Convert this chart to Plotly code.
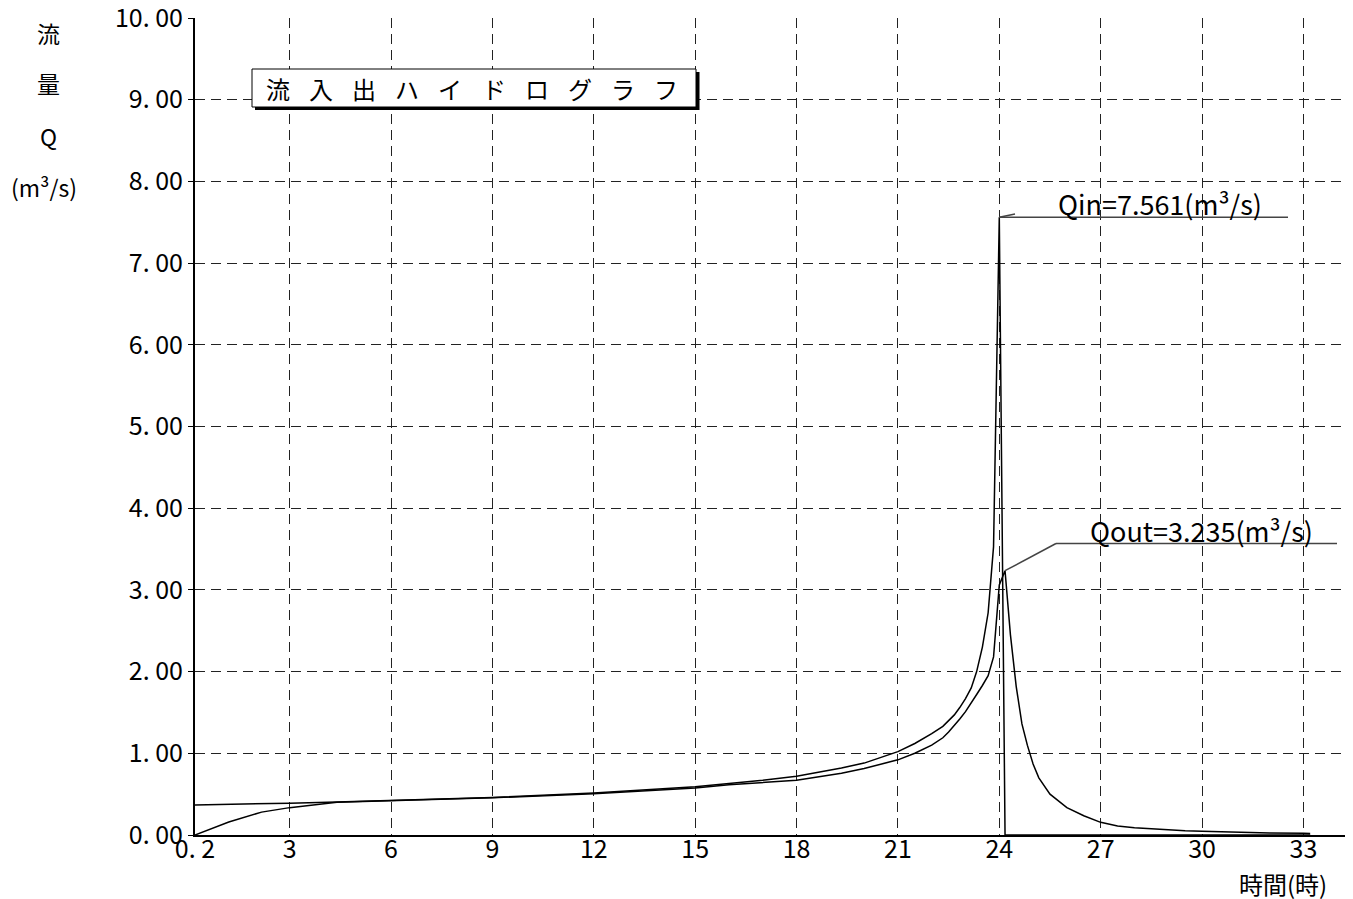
import plotly.graph_objects as go

# ---------------- data ----------------
t_in = [0.2, 1.2, 3.0, 4.4, 6.0, 9.0, 12.0, 15.0, 16.0, 17.0, 18.0, 19.33, 20.0, 21.0,
        21.5, 22.0, 22.33, 22.5, 22.67, 22.83, 23.0, 23.17, 23.33, 23.5, 23.67, 23.83,
        24.0, 24.17, 33.2]
q_in = [0.367, 0.372, 0.39, 0.405, 0.425, 0.46, 0.515, 0.59, 0.63, 0.67, 0.72, 0.82, 0.88, 1.02,
        1.12, 1.24, 1.33, 1.40, 1.47, 1.56, 1.67, 1.80, 2.00, 2.30, 2.72, 3.53,
        7.561, 0.0, 0.0]

t_out = [0.2, 1.2, 2.17, 3.0, 4.4, 6.0, 9.0, 12.0, 15.0, 16.0, 17.0, 18.0, 19.33, 20.0, 21.0,
         21.5, 22.0, 22.33, 22.5, 22.67, 22.83, 23.0, 23.17, 23.33, 23.5, 23.67, 23.83,
         24.0, 24.17, 24.33, 24.5, 24.67, 24.83, 25.0, 25.17, 25.5, 26.0, 26.5, 27.0,
         27.5, 28.0, 28.5, 29.0, 29.5, 30.0, 31.0, 32.0, 33.0, 33.2]
q_out = [0.0, 0.16, 0.28, 0.335, 0.40, 0.42, 0.455, 0.505, 0.575, 0.615, 0.64, 0.67, 0.755, 0.815, 0.92,
         1.00, 1.10, 1.19, 1.26, 1.34, 1.42, 1.51, 1.61, 1.72, 1.83, 1.95, 2.18,
         3.06, 3.235, 2.45, 1.82, 1.36, 1.10, 0.87, 0.70, 0.50, 0.335, 0.235, 0.155,
         0.11, 0.09, 0.075, 0.06, 0.052, 0.045, 0.033, 0.025, 0.02, 0.018]

x_ticks = [0.2, 3, 6, 9, 12, 15, 18, 21, 24, 27, 30, 33]
x_ticktext = ["0. 2", "3", "6", "9", "12", "15", "18", "21", "24", "27", "30", "33"]
y_ticks = [0, 1, 2, 3, 4, 5, 6, 7, 8, 9, 10]
y_ticktext = ["0. 00", "1. 00", "2. 00", "3. 00", "4. 00", "5. 00", "6. 00", "7. 00",
              "8. 00", "9. 00", "10. 00"]

chart_title = "流入出ハイドログラフ"
y_title_parts = ["流", "量", "Q", "(m³/s)"]
x_title = "時間(時)"

# ---------------- layout geometry ----------------
# the page body adds an 8px offset; all screen coordinates below are compensated
OFF = 8
W, H = 1345, 891
L, R, T, B = 195 - OFF, 8, 18 - OFF, 64
PW, PH = W - L - R, H - T - B
FONT = "Noto Sans CJK JP"
X0, X1 = 0.2, 34.23


def px(xs, ys):
    """screen pixel -> paper coords"""
    xf, yf = xs - OFF, ys - OFF
    return (xf - L) / PW, (H - B - yf) / PH


def t_of(xs):
    return X0 + (xs - OFF - L) / PW * (X1 - X0)


def q_of(ys):
    return (H - B - (ys - OFF)) / PH * 10


fig = go.Figure()
fig.add_trace(go.Scatter(x=t_in, y=q_in, mode="lines", line=dict(color="black", width=1.5),
                         name="Qin", showlegend=False, hoverinfo="skip"))
fig.add_trace(go.Scatter(x=t_out, y=q_out, mode="lines", line=dict(color="black", width=1.5),
                         name="Qout", showlegend=False, hoverinfo="skip"))

shapes = []
annotations = []

# title box with shadow
x0, y0 = px(255, 110)
x1, y1 = px(699.5, 72)
shapes.append(dict(type="rect", xref="paper", yref="paper", x0=x0, y0=y0, x1=x1, y1=y1,
                   fillcolor="black", line=dict(width=0)))
x0, y0 = px(252, 107)
x1, y1 = px(696, 69)
shapes.append(dict(type="rect", xref="paper", yref="paper", x0=x0, y0=y0, x1=x1, y1=y1,
                   fillcolor="white", line=dict(color="black", width=1)))
chars = list(chart_title)
n = len(chars)
for i, ch in enumerate(chars):
    cx = 278 + i * (666 - 278) / (n - 1)
    ax, ay = px(cx, 89)
    annotations.append(dict(text=ch, xref="paper", yref="paper", x=ax, y=ay,
                            xanchor="center", yanchor="middle", showarrow=False,
                            font=dict(family=FONT, size=24, color="black")))

# peak annotations
i_in = q_in.index(max(q_in))
i_out = q_out.index(max(q_out))
pin_t, pin_q = t_in[i_in], q_in[i_in]
pout_t, pout_q = t_out[i_out], q_out[i_out]

lead = dict(color="#444444", width=1.5)
shapes.append(dict(type="line", xref="x", yref="y", x0=pin_t, y0=pin_q, x1=t_of(1288), y1=pin_q, line=lead))
shapes.append(dict(type="line", xref="x", yref="y", x0=pin_t, y0=pin_q, x1=t_of(1015), y1=q_of(214), line=lead))
shapes.append(dict(type="line", xref="x", yref="y", x0=pout_t, y0=pout_q, x1=t_of(1056), y1=q_of(543.5), line=lead))
shapes.append(dict(type="line", xref="x", yref="y", x0=t_of(1056), y0=q_of(543.5), x1=t_of(1337), y1=q_of(543.5), line=lead))

annotations.append(dict(text="Qin=%.3f(m³/s)" % pin_q, xref="x", yref="y",
                        x=t_of(1160), y=q_of(203), xanchor="center", yanchor="middle",
                        showarrow=False, font=dict(family=FONT, size=27, color="black")))
annotations.append(dict(text="Qout=%.3f(m³/s)" % pout_q, xref="x", yref="y",
                        x=t_of(1201), y=q_of(530), xanchor="center", yanchor="middle",
                        showarrow=False, font=dict(family=FONT, size=27, color="black")))

# axis titles
for txt, (cx, cy) in zip(y_title_parts, [(48, 33), (48, 83), (48, 136), (44, 187)]):
    ax, ay = px(cx, cy)
    annotations.append(dict(text=txt, xref="paper", yref="paper", x=ax, y=ay,
                            xanchor="center", yanchor="middle", showarrow=False,
                            font=dict(family=FONT, size=23, color="black")))
ax, ay = px(1283, 883)
annotations.append(dict(text=x_title, xref="paper", yref="paper", x=ax, y=ay,
                        xanchor="center", yanchor="middle", showarrow=False,
                        font=dict(family=FONT, size=24, color="black")))

grid_dash = "10px,6px"
fig.update_layout(
    width=W, height=H,
    margin=dict(l=L, r=R, t=T, b=B, autoexpand=False),
    paper_bgcolor="white", plot_bgcolor="white",
    font=dict(family=FONT, size=25, color="black"),
    shapes=shapes, annotations=annotations,
    xaxis=dict(range=[X0, X1], tickmode="array", tickvals=x_ticks, ticktext=x_ticktext,
               showgrid=True, gridcolor="#222222", gridwidth=1, griddash=grid_dash,
               zeroline=False, showline=True, linecolor="black", linewidth=2,
               ticks="", tickfont=dict(family=FONT, size=25, color="black"),
               ticklabelstandoff=-9, ticklabeloverflow="allow", fixedrange=True),
    yaxis=dict(range=[0, 10], tickmode="array", tickvals=y_ticks, ticktext=y_ticktext,
               showgrid=True, gridcolor="#222222", gridwidth=1, griddash=grid_dash,
               zeroline=False, showline=True, linecolor="black", linewidth=2,
               ticks="outside", ticklen=5, tickcolor="black", tickwidth=1,
               ticklabeloverflow="allow",
               tickfont=dict(family=FONT, size=25, color="black"), fixedrange=True),
)

fig.write_html("out.html")
